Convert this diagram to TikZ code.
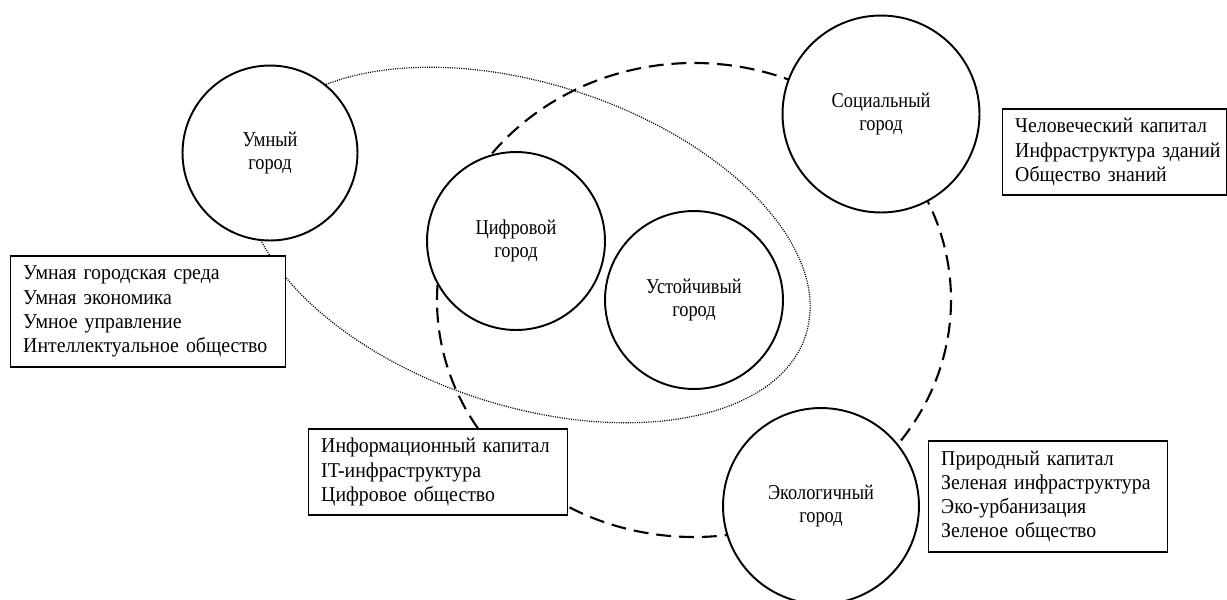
\documentclass[tikz,border=0pt]{standalone}
\usepackage{fontspec}
\setmainfont{Liberation Serif}
\newfontfamily\narrowfont[FakeStretch=0.87]{Liberation Serif}
\newfontfamily\listfont[FakeStretch=0.94]{Liberation Serif}

\begin{document}
\begin{tikzpicture}[x=0.02cm,y=-0.02cm,
			city node/.style={circle,draw,fill=white,line width=1.1pt,align=center,inner sep=0pt,
				font=\narrowfont\fontsize{12}{13.2}\selectfont},
			list node/.style={rectangle,draw,fill=white,line width=0.8pt,anchor=west,align=left,
				inner xsep=0.25cm,font=\listfont\fontsize{12}{13.8}\selectfont}]
			
			\useasboundingbox (0,0) rectangle (1227,599);
			
			\draw[line width=0.7pt,dash pattern=on 0.6pt off 0.7pt,rotate around={-18:(528,245)}]
			(528,245) ellipse [x radius=292,y radius=161];
			\draw[line width=1.2pt,dash pattern=on 8.5pt off 4.5pt]
			(694,300) ellipse [x radius=257,y radius=237];
			
			\node[city node,minimum size=3.5cm] (smart) at (270,153) {Умный\\город};
			\node[city node,minimum size=3.56cm] (digital) at (516,241) {Цифровой\\город};
			\node[city node,minimum size=3.56cm] (stable) at (694,300) {Устойчивый\\город};
			\node[city node,minimum size=3.94cm] (social) at (881,114) {Социальный\\город};
			\node[city node,minimum size=3.92cm] (eco) at (821,506) {Экологичный\\город};
			
			\node[list node,text width=5cm,minimum height=2.22cm] (smartlist) at (10,311.5)
			{Умная~городская~среда\\Умная~экономика\\Умное~управление\\Интеллектуальное~общество};
			\node[list node,text width=4.68cm,minimum height=1.72cm] (digitallist) at (308,472)
			{Информационный~капитал\\IT-инфраструктура\\Цифровое~общество};
			\node[list node,text width=3.98cm,minimum height=1.72cm] (sociallist) at (1002,152)
			{Человеческий~капитал\\Инфраструктура~зданий\\Общество~знаний};
			\node[list node,text width=4.28cm,minimum height=2.22cm] (ecolist) at (928,496.5)
			{Природный~капитал\\Зеленая~инфраструктура\\Эко-урбанизация\\Зеленое~общество};
		\end{tikzpicture}
\end{document}
